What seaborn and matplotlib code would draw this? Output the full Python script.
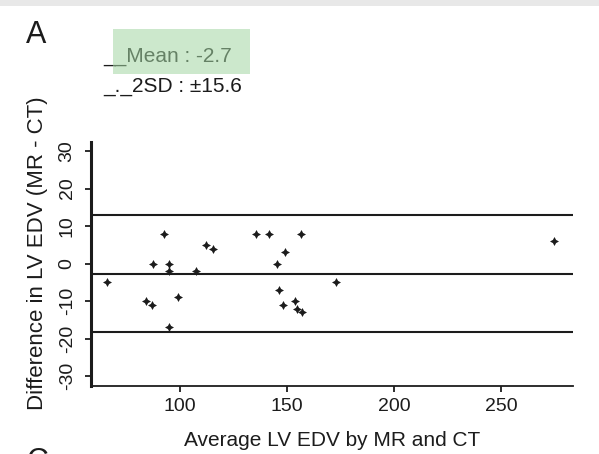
import matplotlib
matplotlib.use("Agg")
import matplotlib.pyplot as plt
import seaborn as sns
import pandas as pd
from matplotlib.patches import Rectangle

# Bland-Altman data: mean of MR and CT LV EDV vs. their difference
avg_edv = [66, 84, 87, 87.5, 92.5, 95, 95, 95, 99, 107.5, 112, 115.5,
           135.5, 141.5, 145.5, 149, 146, 148, 153.5, 154.5, 157, 156.5,
           173, 274.5]
diff_edv = [-5, -10, -11, 0, 8, 0, -2, -17, -9, -2, 5, 4,
            8, 8, 0, 3, -7, -11, -10, -12, -13, 8,
            -5, 6]
mean_diff = -2.7
two_sd = 15.6
y_ticks = [-30, -20, -10, 0, 10, 20, 30]
x_ticks = [100, 150, 200, 250]

df = pd.DataFrame({"avg": avg_edv, "diff": diff_edv})

sns.set_theme(style="white")
plt.rcParams["font.family"] = ["Liberation Sans", "DejaVu Sans"]

ink = "#1c1c1c"
fig = plt.figure(figsize=(5.99, 4.54), dpi=100)
ax = fig.add_axes([0.1519, 0.1498, 0.9566 - 0.1519, 0.6879 - 0.1498])

# limits of agreement and mean bias
for level in (mean_diff + two_sd, mean_diff, mean_diff - two_sd):
    ax.axhline(level, color=ink, lw=1.5, zorder=1)

sns.scatterplot(data=df, x="avg", y="diff", marker=(4, 1, 0), s=42,
                color=ink, linewidth=0, ax=ax, zorder=3)

ax.set_xlim(58.4, 283.5)
ax.set_ylim(-32.6, 32.5)
ax.set_xticks(x_ticks)
ax.set_yticks(y_ticks)
ax.set_xticklabels([str(v) for v in x_ticks], fontsize=14, color=ink)
ax.set_yticklabels([str(v) for v in y_ticks], fontsize=14, color=ink,
                   rotation=90, va="center")

for side in ("top", "right"):
    ax.spines[side].set_visible(False)
ax.spines["left"].set_linewidth(2.2)
ax.spines["bottom"].set_linewidth(1.3)
ax.spines["left"].set_color(ink)
ax.spines["bottom"].set_color(ink)
ax.tick_params(axis="y", direction="out", length=4, width=1.3, color=ink,
               pad=7, left=True)
ax.tick_params(axis="x", direction="out", length=4, width=1.3, color=ink,
               pad=5, bottom=True)

ax.set_xlabel("Average LV EDV by MR and CT", fontsize=15, color=ink,
              labelpad=11)
ax.set_ylabel("Difference in LV EDV (MR - CT)", fontsize=16, color=ink)
ax.yaxis.set_label_coords(-0.09, 0.545)

# panel letters
fig.text(26 / 599, 1 - 43 / 454, "A", fontsize=22, color=ink, va="baseline")
fig.text(26 / 599, 1 - 447 / 454, "C", fontsize=22, color=ink, va="top")

# legend text for the reference lines
fig.text(103 / 599, 1 - 62 / 454, "__Mean : -2.7", fontsize=15, color=ink,
         va="baseline")
fig.text(103 / 599, 1 - 92 / 454, "_._2SD : \u00b115.6", fontsize=15,
         color=ink, va="baseline")
fig.patches.append(Rectangle((113 / 599, 1 - 74 / 454), 137 / 599, 45 / 454,
                             transform=fig.transFigure, facecolor="#a3d6a3",
                             alpha=0.55, edgecolor="none", zorder=5))

# light page band along the top edge
fig.patches.append(Rectangle((0, 1 - 6 / 454), 1, 6 / 454,
                             transform=fig.transFigure, facecolor="#e8e8e8",
                             edgecolor="none", zorder=0))

fig.savefig("out.png", dpi=100, facecolor="white")
